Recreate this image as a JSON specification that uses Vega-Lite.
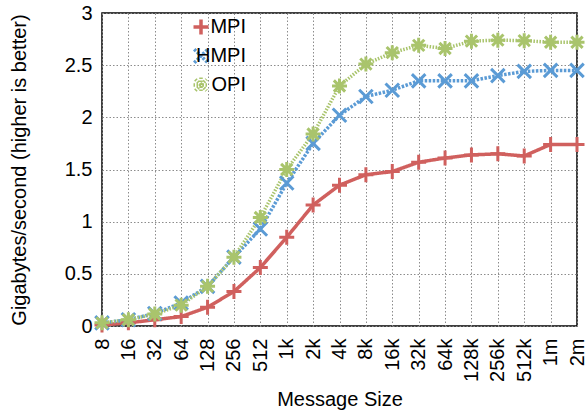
{
  "$schema": "https://vega.github.io/schema/vega-lite/v6.json",
  "width": 475,
  "height": 313,
  "autosize": {"type": "none"},
  "padding": {"left": 102, "top": 13, "right": 10, "bottom": 89},
  "background": "white",
  "config": {
    "font": "Liberation Sans",
    "view": {"stroke": "black", "strokeWidth": 1.5},
    "axis": {
      "labelFont": "Liberation Sans", "labelFontSize": 20, "labelColor": "black",
      "titleFont": "Liberation Sans", "titleFontSize": 20, "titleFontWeight": "normal", "titleColor": "black",
      "grid": true, "gridColor": "#8c8c8c", "gridDash": [1.5, 2], "gridWidth": 1, "gridOpacity": 1,
      "domain": false, "ticks": false
    }
  },
  "data": {"values": [
    {"series": "MPI", "size": "8", "gbps": 0.01},
    {"series": "MPI", "size": "16", "gbps": 0.03},
    {"series": "MPI", "size": "32", "gbps": 0.06},
    {"series": "MPI", "size": "64", "gbps": 0.09},
    {"series": "MPI", "size": "128", "gbps": 0.18},
    {"series": "MPI", "size": "256", "gbps": 0.33},
    {"series": "MPI", "size": "512", "gbps": 0.56},
    {"series": "MPI", "size": "1k", "gbps": 0.85},
    {"series": "MPI", "size": "2k", "gbps": 1.16},
    {"series": "MPI", "size": "4k", "gbps": 1.35},
    {"series": "MPI", "size": "8k", "gbps": 1.45},
    {"series": "MPI", "size": "16k", "gbps": 1.48},
    {"series": "MPI", "size": "32k", "gbps": 1.57},
    {"series": "MPI", "size": "64k", "gbps": 1.61},
    {"series": "MPI", "size": "128k", "gbps": 1.64},
    {"series": "MPI", "size": "256k", "gbps": 1.65},
    {"series": "MPI", "size": "512k", "gbps": 1.63},
    {"series": "MPI", "size": "1m", "gbps": 1.74},
    {"series": "MPI", "size": "2m", "gbps": 1.74},
    {"series": "HMPI", "size": "8", "gbps": 0.03},
    {"series": "HMPI", "size": "16", "gbps": 0.06},
    {"series": "HMPI", "size": "32", "gbps": 0.12},
    {"series": "HMPI", "size": "64", "gbps": 0.22},
    {"series": "HMPI", "size": "128", "gbps": 0.38},
    {"series": "HMPI", "size": "256", "gbps": 0.66},
    {"series": "HMPI", "size": "512", "gbps": 0.93},
    {"series": "HMPI", "size": "1k", "gbps": 1.37},
    {"series": "HMPI", "size": "2k", "gbps": 1.75},
    {"series": "HMPI", "size": "4k", "gbps": 2.02},
    {"series": "HMPI", "size": "8k", "gbps": 2.2},
    {"series": "HMPI", "size": "16k", "gbps": 2.26},
    {"series": "HMPI", "size": "32k", "gbps": 2.35},
    {"series": "HMPI", "size": "64k", "gbps": 2.35},
    {"series": "HMPI", "size": "128k", "gbps": 2.35},
    {"series": "HMPI", "size": "256k", "gbps": 2.4},
    {"series": "HMPI", "size": "512k", "gbps": 2.44},
    {"series": "HMPI", "size": "1m", "gbps": 2.45},
    {"series": "HMPI", "size": "2m", "gbps": 2.45},
    {"series": "OPI", "size": "8", "gbps": 0.03},
    {"series": "OPI", "size": "16", "gbps": 0.06},
    {"series": "OPI", "size": "32", "gbps": 0.115},
    {"series": "OPI", "size": "64", "gbps": 0.2},
    {"series": "OPI", "size": "128", "gbps": 0.38},
    {"series": "OPI", "size": "256", "gbps": 0.66},
    {"series": "OPI", "size": "512", "gbps": 1.04},
    {"series": "OPI", "size": "1k", "gbps": 1.5},
    {"series": "OPI", "size": "2k", "gbps": 1.84},
    {"series": "OPI", "size": "4k", "gbps": 2.3},
    {"series": "OPI", "size": "8k", "gbps": 2.51},
    {"series": "OPI", "size": "16k", "gbps": 2.62},
    {"series": "OPI", "size": "32k", "gbps": 2.69},
    {"series": "OPI", "size": "64k", "gbps": 2.66},
    {"series": "OPI", "size": "128k", "gbps": 2.73},
    {"series": "OPI", "size": "256k", "gbps": 2.74},
    {"series": "OPI", "size": "512k", "gbps": 2.735},
    {"series": "OPI", "size": "1m", "gbps": 2.72},
    {"series": "OPI", "size": "2m", "gbps": 2.72}
  ]},
  "encoding": {
    "x": {
      "field": "size", "type": "ordinal", "sort": null,
      "scale": {"type": "point", "padding": 0},
      "axis": {"title": "Message Size", "labelAngle": -90, "labelAlign": "right", "labelBaseline": "middle", "labelPadding": 12, "titlePadding": 8}
    },
    "y": {
      "field": "gbps", "type": "quantitative",
      "scale": {"domain": [0, 3], "nice": false},
      "axis": {"title": "Gigabytes/second (higher is better)", "values": [0, 0.5, 1, 1.5, 2, 2.5, 3], "format": ".1~f", "labelPadding": 10, "titlePadding": 35}
    },
    "color": {
      "field": "series", "type": "nominal",
      "scale": {"domain": ["MPI", "HMPI", "OPI"], "range": ["#d0605e", "#5b9bd5", "#a9c46c"]},
      "legend": {
        "orient": "none", "legendX": 5, "legendY": 4, "title": null,
        "padding": 0, "rowPadding": 0,
        "labelFont": "Liberation Sans", "labelFontSize": 20, "labelColor": "black",
        "labelAlign": "right", "labelOffset": 35, "symbolOffset": 84,
        "symbolSize": 225, "symbolStrokeWidth": 3,
        "encode": {
          "labels": {"update": {"align": {"value": "right"}}},
          "symbols": {
            "update": {
              "size": {"value": 225},
              "fill": {"value": "transparent"},
              "stroke": {"scale": "color", "field": "value"},
              "strokeDash": {"value": []},
              "strokeWidth": {"value": 3},
              "opacity": {"value": 1}
            }
          }
        }
      }
    }
  },
  "layer": [
    {
      "mark": {"type": "line", "strokeCap": "butt"},
      "encoding": {
        "strokeDash": {
          "field": "series", "type": "nominal",
          "scale": {"domain": ["MPI", "HMPI", "OPI"], "range": [[1, 0], [2.5, 1.5], [1.5, 1.5]]},
          "legend": null
        },
        "strokeWidth": {
          "field": "series", "type": "nominal",
          "scale": {"domain": ["MPI", "HMPI", "OPI"], "range": [3.5, 3.5, 2.5]},
          "legend": null
        }
      }
    },
    {
      "mark": {"type": "point", "filled": false, "size": 225, "strokeWidth": 3, "opacity": 1},
      "encoding": {
        "shape": {
          "field": "series", "type": "nominal",
          "scale": {"domain": ["MPI", "HMPI", "OPI"], "range": ["M-1,0L1,0M0,-1L0,1", "M-0.9,-0.9L0.9,0.9M-0.9,0.9L0.9,-0.9", "M-1,0L1,0M0,-1L0,1M-0.75,-0.75L0.75,0.75M-0.75,0.75L0.75,-0.75"]},
          "legend": null
        }
      }
    }
  ]
}
